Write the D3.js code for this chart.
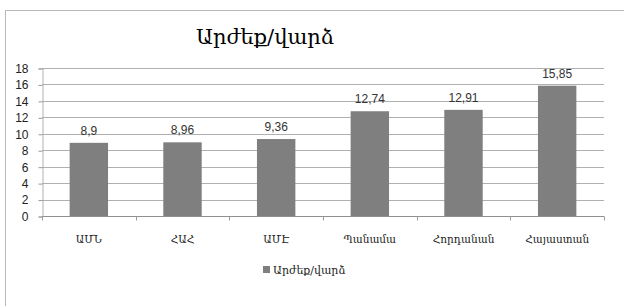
<!DOCTYPE html>
<html><head><meta charset="utf-8">
<script src="https://cdn.jsdelivr.net/npm/d3@7"></script>
<style>body{margin:0;background:#fff}svg{display:block}</style>
</head><body>
<svg id="c" width="624" height="306"></svg>
<script>
const title = "Արժեք/վարձ";
const seriesName = "Արժեք/վարձ";
const categories = ["ԱՄՆ", "ՀԱՀ", "ԱՄԷ", "Պանամա", "Հորդանան", "Հայաստան"];
const values = [8.9, 8.96, 9.36, 12.74, 12.91, 15.85];
const valueLabels = ["8,9", "8,96", "9,36", "12,74", "12,91", "15,85"];
const yTicks = [0, 2, 4, 6, 8, 10, 12, 14, 16, 18];

const svg = d3.select("#c");
const armFont = "'DejaVu Serif', serif";
const numFont = "'Liberation Sans', Arial, sans-serif";

// outer chart border
svg.append("rect").attr("x", 5.5).attr("y", 10.5).attr("width", 640).attr("height", 320)
  .attr("fill", "#fff").attr("stroke", "#b8b8b8");

const x = d3.scaleBand().domain(categories).range([42, 604]).paddingInner(0.59).paddingOuter(0.295);
const xb = d3.scaleBand().domain(categories).range([42, 604]);
const y = d3.scaleLinear().domain([0, 18]).range([216, 68]);

// gridlines
svg.append("g").selectAll("line").data(yTicks.filter(d => d > 0)).join("line")
  .attr("x1", 42).attr("x2", 604)
  .attr("y1", d => Math.round(y(d)) + 0.5).attr("y2", d => Math.round(y(d)) + 0.5)
  .attr("stroke", "#b0b0b0");

// y axis
const yAxis = svg.append("g").attr("transform", "translate(42.5,0.5)")
  .call(d3.axisLeft(y).tickValues(yTicks).tickSize(4).tickPadding(10).tickFormat(d3.format("d")));
yAxis.select(".domain").attr("stroke", "#b0b0b0");
yAxis.selectAll(".tick line").attr("stroke", "#999");
yAxis.selectAll("text").attr("font-family", numFont).attr("font-size", 12).attr("fill", "#222");

// bars
svg.append("g").selectAll("rect").data(values).join("rect")
  .attr("x", (d, i) => x(categories[i]))
  .attr("y", d => y(d))
  .attr("width", x.bandwidth())
  .attr("height", d => y(0) - y(d))
  .attr("fill", "#7f7f7f");

// x axis
const xg = svg.append("g").attr("transform", "translate(0,216.5)");
xg.append("line").attr("x1", 42).attr("x2", 604).attr("stroke", "#909090");
xg.selectAll("line.t").data(categories.concat(["__end"])).join("line").attr("class", "t")
  .attr("x1", (d, i) => Math.round(42 + i * xb.bandwidth()) + 0.5)
  .attr("x2", (d, i) => Math.round(42 + i * xb.bandwidth()) + 0.5)
  .attr("y1", 0).attr("y2", 4).attr("stroke", "#999");
xg.selectAll("text").data(categories).join("text")
  .attr("x", d => xb(d) + xb.bandwidth() / 2).attr("y", 26)
  .attr("text-anchor", "middle").attr("font-family", armFont).attr("font-size", 10.5)
  .attr("fill", "#222").text(d => d);

// value labels
svg.append("g").selectAll("text").data(values).join("text")
  .attr("x", (d, i) => x(categories[i]) + x.bandwidth() / 2)
  .attr("y", d => y(d) - 8)
  .attr("text-anchor", "middle").attr("font-family", numFont).attr("font-size", 12)
  .attr("fill", "#333").text((d, i) => valueLabels[i]);

// title
svg.append("text").attr("x", 265).attr("y", 44).attr("text-anchor", "middle")
  .attr("font-family", armFont).attr("font-size", 21).attr("fill", "#000").text(title);

// legend
const lg = svg.append("g");
lg.append("rect").attr("x", 263).attr("y", 266).attr("width", 7).attr("height", 7).attr("fill", "#7f7f7f");
lg.append("text").attr("x", 273).attr("y", 274).attr("font-family", armFont).attr("font-size", 11)
  .attr("fill", "#222").text(seriesName);
</script>
</body></html>
